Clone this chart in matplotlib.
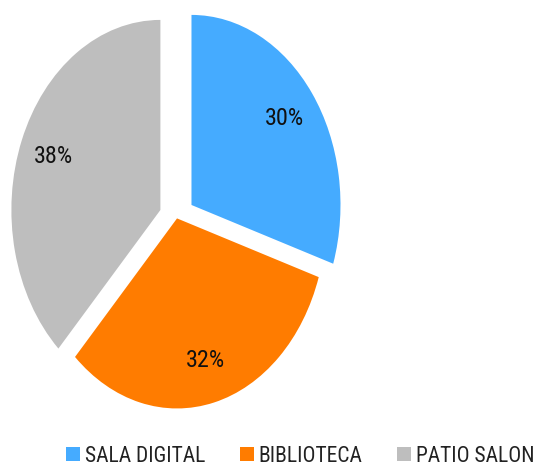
import matplotlib
matplotlib.use("Agg")
import matplotlib.pyplot as plt
from matplotlib import font_manager
from matplotlib.patches import Patch

categories = ["SALA DIGITAL", "BIBLIOTECA", "PATIO SALON"]
values = [30, 32, 38]
colors = ["#45ABFF", "#FF7C00", "#BEBEBE"]
explode = [0.12, 0.0, 0.12]

available = {f.name for f in font_manager.fontManager.ttflist}
family = "DejaVu Sans"
for cand in ["Liberation Sans Narrow", "DejaVu Sans Condensed", "Roboto Condensed", "Open Sans Condensed", "Liberation Sans"]:
    if cand in available:
        family = cand
        break
plt.rcParams["font.family"] = [family, "DejaVu Sans"]

fig = plt.figure(figsize=(5.4, 4.67), dpi=100)
ax = fig.add_axes([0, 0, 1, 1])
wedges, texts, autotexts = ax.pie(
    values, colors=colors, explode=explode, startangle=90, counterclock=False,
    autopct="%1.0f%%", pctdistance=0.77,
    textprops=dict(fontsize=17.5, color="#111111"),
    wedgeprops=dict(linewidth=0),
)
ax.set_aspect("auto")
ax.set_xlim(-1.188, 2.436)
ax.set_ylim(-1.308, 1.149)
ax.axis("off")

handles = [Patch(facecolor=c, edgecolor="none") for c in colors]
fig.legend(handles, categories, loc="center", bbox_to_anchor=(300 / 540, 1 - 456 / 467),
           ncol=3, frameon=False, fontsize=15.5, handlelength=0.68, handleheight=0.68,
           handletextpad=0.2, columnspacing=1.6, borderpad=0, labelcolor="#222222")

fig.savefig("out.png", dpi=100)
